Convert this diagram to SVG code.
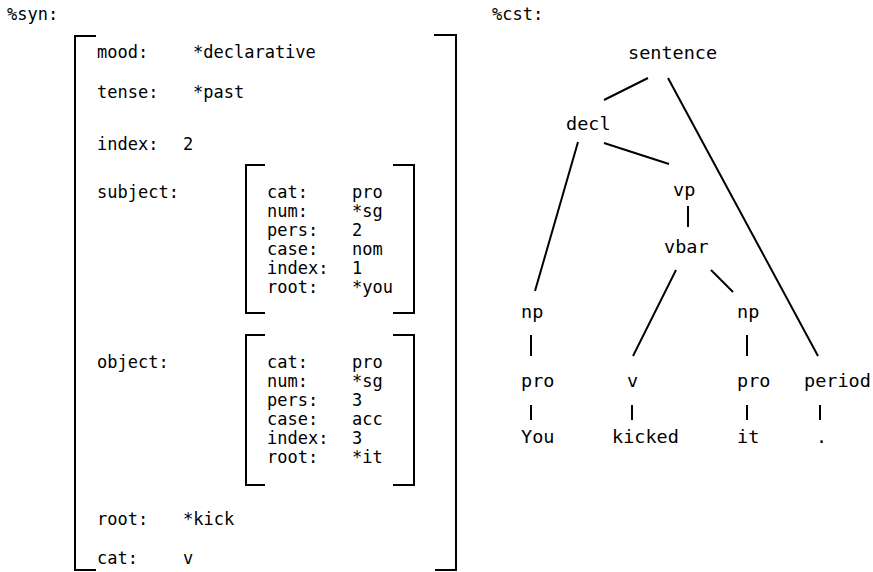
<svg xmlns="http://www.w3.org/2000/svg" width="873" height="572" viewBox="0 0 873 572">
<style>
text{font-family:"DejaVu Sans Mono","Liberation Mono",monospace;fill:#000}
.o{font-size:17px}
.i{font-size:17px}
.t{font-size:18.5px}
.tc{font-size:18.5px;text-anchor:middle}
.br{fill:none;stroke:#000;stroke-width:2}
.ln{stroke:#000;stroke-width:2;fill:none}
</style>
<rect width="873" height="572" fill="#fff"/>
<g id="syn">
<text class="o" x="7" y="20">%syn:</text>
<g id="outer-brackets">
<path class="br" d="M96,36 H75 V570 H96"/>
<path class="br" d="M434,35 H456 V570 H435"/>
</g>
<g id="mood"><text class="o" x="97" y="58">mood:</text><text class="o" x="193" y="58">*declarative</text></g>
<g id="tense"><text class="o" x="97" y="98">tense:</text><text class="o" x="193" y="98">*past</text></g>
<g id="index"><text class="o" x="97" y="150">index:</text><text class="o" x="183" y="150">2</text></g>
<g id="subject">
<text class="o" x="97" y="198">subject:</text>
<path class="br" d="M265,165 H246 V313 H265"/>
<path class="br" d="M393,165 H414 V313 H393"/>
<text class="i" x="267" y="198">cat:</text><text class="i" x="352" y="198">pro</text>
<text class="i" x="267" y="217">num:</text><text class="i" x="352" y="217">*sg</text>
<text class="i" x="267" y="236">pers:</text><text class="i" x="352" y="236">2</text>
<text class="i" x="267" y="255">case:</text><text class="i" x="352" y="255">nom</text>
<text class="i" x="267" y="274">index:</text><text class="i" x="352" y="274">1</text>
<text class="i" x="267" y="293">root:</text><text class="i" x="352" y="293">*you</text>
</g>
<g id="object">
<text class="o" x="97" y="368">object:</text>
<path class="br" d="M265,335 H246 V485 H265"/>
<path class="br" d="M393,335 H414 V485 H393"/>
<text class="i" x="267" y="368">cat:</text><text class="i" x="352" y="368">pro</text>
<text class="i" x="267" y="387">num:</text><text class="i" x="352" y="387">*sg</text>
<text class="i" x="267" y="406">pers:</text><text class="i" x="352" y="406">3</text>
<text class="i" x="267" y="425">case:</text><text class="i" x="352" y="425">acc</text>
<text class="i" x="267" y="444">index:</text><text class="i" x="352" y="444">3</text>
<text class="i" x="267" y="463">root:</text><text class="i" x="352" y="463">*it</text>
</g>
<g id="root"><text class="o" x="97" y="525">root:</text><text class="o" x="183" y="525">*kick</text></g>
<g id="cat"><text class="o" x="97" y="564">cat:</text><text class="o" x="183" y="564">v</text></g>
</g>
<g id="cst">
<text class="o" x="492" y="20">%cst:</text>
<g id="connectors">
<line class="ln" x1="648" y1="78" x2="604" y2="100"/>
<line class="ln" x1="668" y1="78" x2="818" y2="356"/>
<line class="ln" x1="578" y1="142" x2="535" y2="291"/>
<line class="ln" x1="604" y1="143" x2="669" y2="164"/>
<line class="ln" x1="688" y1="206" x2="688" y2="227"/>
<line class="ln" x1="676" y1="270" x2="633" y2="356"/>
<line class="ln" x1="711" y1="270" x2="733" y2="292"/>
<line class="ln" x1="531" y1="335" x2="531" y2="356"/>
<line class="ln" x1="531" y1="405" x2="531" y2="420"/>
<line class="ln" x1="632" y1="405" x2="632" y2="420"/>
<line class="ln" x1="747" y1="335" x2="747" y2="356"/>
<line class="ln" x1="747" y1="405" x2="747" y2="420"/>
<line class="ln" x1="820" y1="405" x2="820" y2="420"/>
</g>
<g id="n-sentence"><text class="t" x="628" y="59">sentence</text></g>
<g id="n-decl"><text class="t" x="566" y="130">decl</text></g>
<g id="n-vp"><text class="t" x="673" y="196">vp</text></g>
<g id="n-vbar"><text class="t" x="664" y="253">vbar</text></g>
<g id="n-np1"><text class="t" x="521" y="318">np</text></g>
<g id="n-np2"><text class="t" x="737" y="318">np</text></g>
<g id="n-pro1"><text class="t" x="521" y="387">pro</text></g>
<g id="n-v"><text class="t" x="627" y="387">v</text></g>
<g id="n-pro2"><text class="t" x="737" y="387">pro</text></g>
<g id="n-period"><text class="t" x="804" y="387">period</text></g>
<g id="w-you"><text class="t" x="521" y="443">You</text></g>
<g id="w-kicked"><text class="t" x="612" y="443">kicked</text></g>
<g id="w-it"><text class="t" x="737" y="443">it</text></g>
<g id="w-period"><text class="t" x="816" y="443">.</text></g>
</g>
</svg>
